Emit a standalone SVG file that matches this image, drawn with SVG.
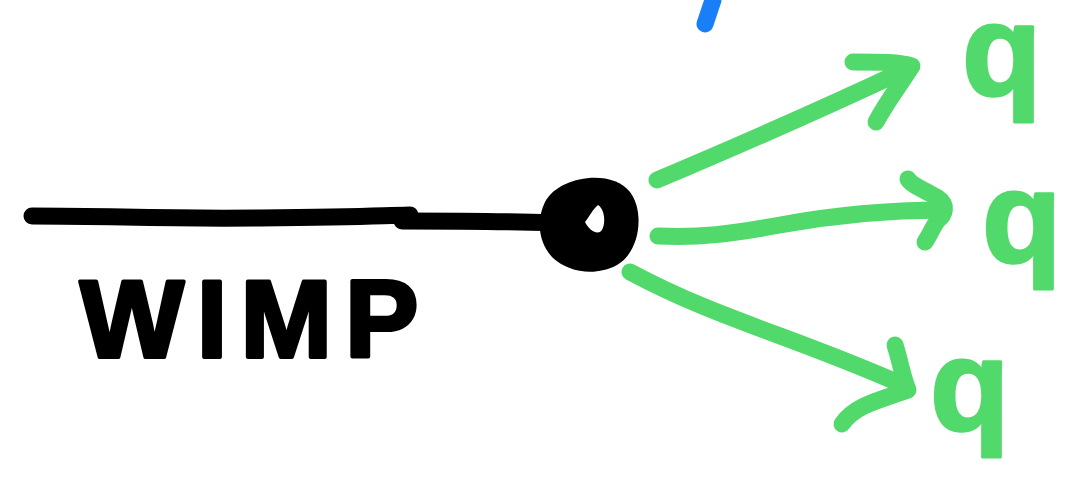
<svg xmlns="http://www.w3.org/2000/svg" width="1066" height="498" viewBox="0 0 1066 498">
<style>
.ink{fill:none;stroke-linecap:round;stroke-linejoin:round;stroke-width:17}
.blk{stroke:#000}
.grn{stroke:#52d96b}
.lbl{font-family:"Liberation Sans",Arial,sans-serif;font-weight:bold;stroke-linejoin:round}
</style>
<rect width="1066" height="498" fill="#fff"/>
<g id="wimp-line">
<path class="ink blk" d="M32,216 C120,216 150,219 260,218 S370,216 410,215"/>
<path class="ink blk" d="M402,221 C460,221 500,221 552,223"/>
</g>
<g id="vertex">
<path d="M545,202 C558,176 612,168 630,192 C645,212 640,252 617,265 C595,277 568,272 553,258 C537,242 537,218 545,202 Z" fill="#000"/>
<path d="M598,205 C606,210 606,228 600,232 C594,234 588,228 585,222 C590,216 592,210 598,205 Z" fill="#fff"/>
</g>
<g id="blue-mark">
<path class="ink" stroke="#1a7ef8" stroke-width="18" d="M713,0 L705,24"/>
</g>
<g id="connectors">
<path class="ink grn" d="M657,180 C740,145 820,110 905,70"/>
<path class="ink grn" d="M853,62 C880,62 900,62 912,66 C900,85 888,100 876,122"/>
<path class="ink grn" d="M658,236 C700,238 730,234 780,225 C840,214 890,210 942,210"/>
<path class="ink grn" d="M908,179 C912,186 925,190 938,198 C948,205 945,215 938,220 C932,228 930,235 925,242"/>
<path class="ink grn" d="M630,272 C720,320 790,335 903,385"/>
<path class="ink grn" d="M895,345 C900,360 902,375 908,390 C880,400 855,405 842,424"/>
</g>
<g id="label-wimp">
<text class="lbl" x="80" y="357" font-size="110" fill="#000" stroke="#000" stroke-width="4" letter-spacing="13">WIMP</text>
</g>
<g id="q1"><text class="lbl" x="962" y="95" font-size="130" fill="#52d96b" stroke="#52d96b" stroke-width="3">q</text></g>
<g id="q2"><text class="lbl" x="982" y="262" font-size="130" fill="#52d96b" stroke="#52d96b" stroke-width="3">q</text></g>
<g id="q3"><text class="lbl" x="930" y="430" font-size="130" fill="#52d96b" stroke="#52d96b" stroke-width="3">q</text></g>
</svg>
